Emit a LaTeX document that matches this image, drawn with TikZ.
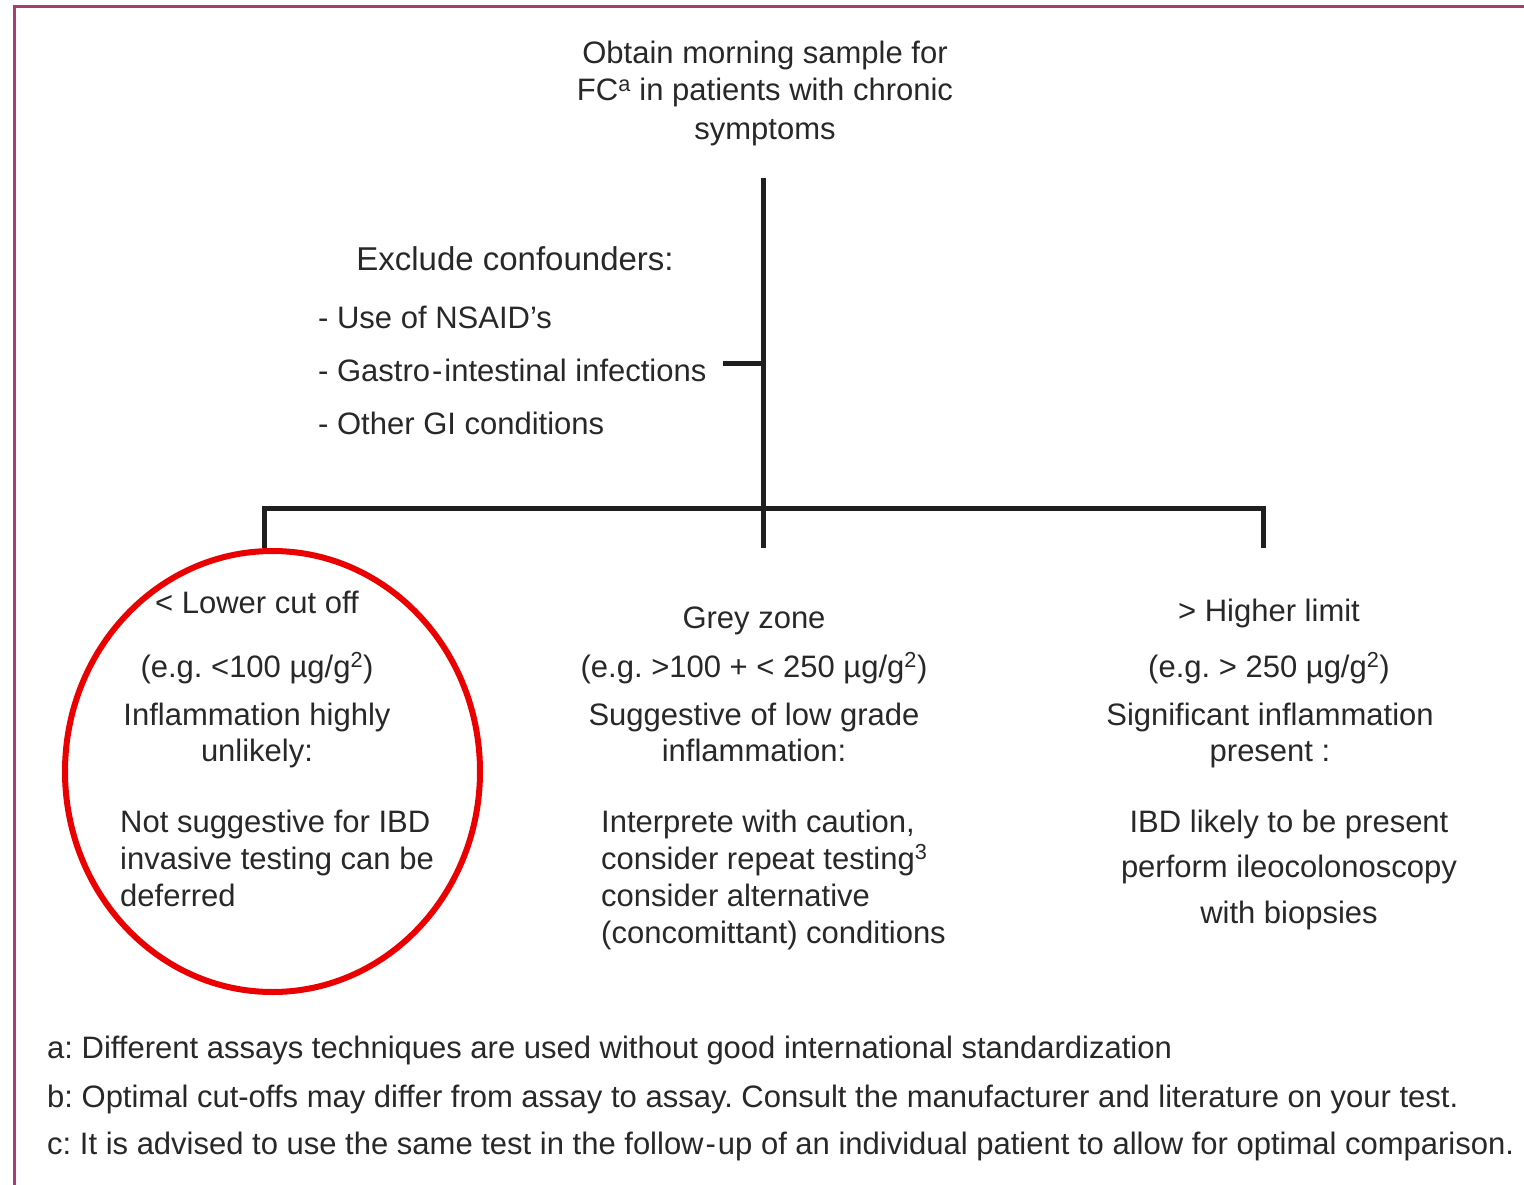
\documentclass[tikz,border=0pt]{standalone}
\usepackage{fontspec}
\setmainfont{Liberation Sans}
\usetikzlibrary{shapes.geometric}
\definecolor{txt}{RGB}{40,40,40}
\definecolor{framecol}{RGB}{170,60,115}
\definecolor{markcol}{RGB}{235,0,0}
\frenchspacing
\begin{document}
\begin{tikzpicture}[x=1pt,y=-1pt,
  lbl/.style={inner sep=0pt, anchor=base, text=txt, font=\fontsize{31}{38}\selectfont},
  lbll/.style={lbl, anchor=base west},
  link/.style={line width=5pt, draw=black!88},
  framestyle/.style={line width=3pt, draw=framecol},
  markstyle/.style={draw=markcol, line width=6pt, ellipse, inner sep=0pt}]
\useasboundingbox (0,0) rectangle (1524,1185);
\fill[white] (0,0) rectangle (1524,1185);
% frame
\draw[framestyle] (14,1190) -- (14,7) -- (1530,7);
% title
\node[lbl] (t1) at (765,64) {Obtain morning sample for};
\node[lbl] (t2) at (765,101) {FC\textsuperscript{a} in patients with chronic};
\node[lbl] (t3) at (765,140) {symptoms};
% confounders
\node[lbl, font=\fontsize{33}{40}\selectfont] (ex) at (515,271) {Exclude confounders:};
\node[lbll] (ex1) at (318,328) {- Use of NSAID’s};
\node[lbll] (ex2) at (318,381) {- Gastro\kern2pt-\kern2pt intestinal infections};
\node[lbll] (ex3) at (318,434) {- Other GI conditions};
% connectors
\coordinate (top) at (763,178);
\coordinate (hub) at (763,508);
\coordinate (mid) at (763,548);
\coordinate (lft) at (264,548);
\coordinate (rgt) at (1263,548);
\coordinate (tick) at (723,363);
\coordinate (tickj) at (763,363);
\draw[link] (top) -- (mid);
\draw[link] (lft) -- (lft |- hub) -- (rgt |- hub) -- (rgt);
\draw[link] (tick) -- (tickj);
% left column
\node[lbl] (l1) at (257,613) {< Lower cut off};
\node[lbl] (l2) at (257,677) {(e.g. <100 µg/g\textsuperscript{2})};
\node[lbl] (l3) at (257,725) {Inflammation highly};
\node[lbl] (l4) at (257,761) {unlikely:};
\node[lbll] (l5) at (120,832) {Not suggestive for IBD};
\node[lbll] (l6) at (120,869) {invasive testing can be};
\node[lbll] (l7) at (120,906) {deferred};
% middle column
\node[lbl] (m1) at (754,628) {Grey zone};
\node[lbl] (m2) at (754,677) {(e.g. >100 + < 250 µg/g\textsuperscript{2})};
\node[lbl] (m3) at (754,725) {Suggestive of low grade};
\node[lbl] (m4) at (754,761) {inflammation:};
\node[lbll] (m5) at (601,832) {Interprete with caution,};
\node[lbll] (m6) at (601,869) {consider repeat testing\textsuperscript{3}};
\node[lbll] (m7) at (601,906) {consider alternative};
\node[lbll] (m8) at (601,943) {(concomittant) conditions};
% right column
\node[lbl] (r1) at (1269,621) {> Higher limit};
\node[lbl] (r2) at (1269,677) {(e.g. > 250 µg/g\textsuperscript{2})};
\node[lbl] (r3) at (1270,725) {Significant inflammation};
\node[lbl] (r4) at (1270,761) {present :};
\node[lbl] (r5) at (1289,832) {IBD likely to be present};
\node[lbl] (r6) at (1289,877) {perform ileocolonoscopy};
\node[lbl] (r7) at (1289,923) {with biopsies};
% footnotes
\node[lbll] (fa) at (47,1058) {a: Different assays techniques are used without good international standardization};
\node[lbll] (fb) at (47,1107) {b: Optimal cut-offs may differ from assay to assay. Consult the manufacturer and literature on your test.};
\node[lbll] (fc) at (47,1154) {c: It is advised to use the same test in the follow\kern2pt-\kern2pt up of an individual patient to allow for optimal comparison.};
% red annotation ellipse
\node[markstyle, minimum width=415pt, minimum height=441pt] (mark) at (272.5,771.5) {};
\end{tikzpicture}
\end{document}
